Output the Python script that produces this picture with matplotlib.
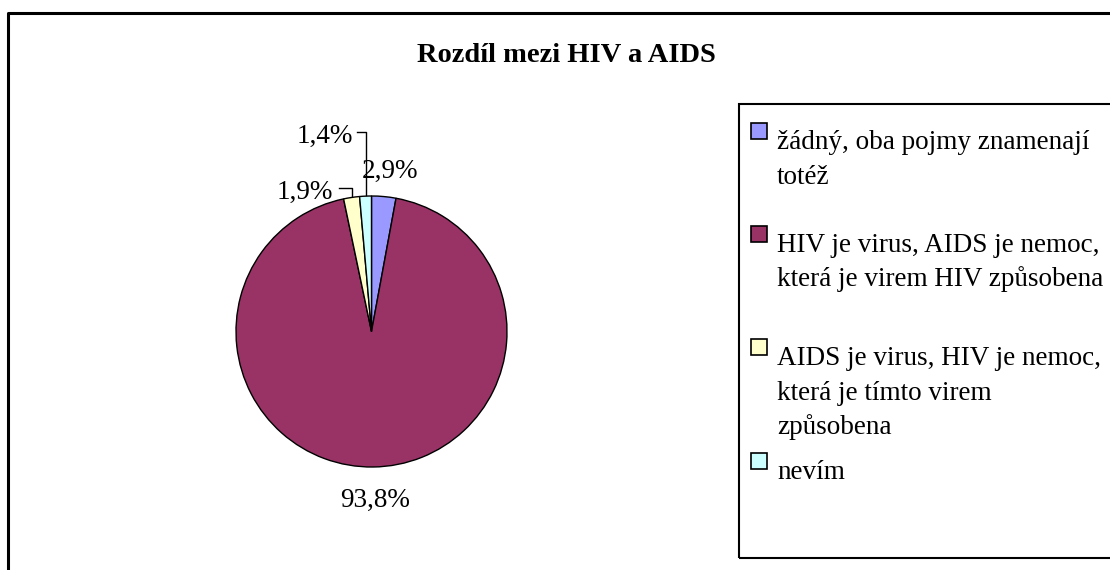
import matplotlib
matplotlib.use("Agg")
import matplotlib.pyplot as plt
from matplotlib.patches import Rectangle
import numpy as np

title = "Rozdíl mezi HIV a AIDS"
categories = [
    "žádný, oba pojmy znamenají\ntotéž",
    "HIV je virus, AIDS je nemoc,\nkterá je virem HIV způsobena",
    "AIDS je virus, HIV je nemoc,\nkterá je tímto virem\nzpůsobena",
    "nevím",
]
values = [2.9, 93.8, 1.9, 1.4]
colors = ["#9999FF", "#993366", "#FFFFCC", "#CCFFFF"]

W, H = 1110, 570
fig = plt.figure(figsize=(W / 100, H / 100), dpi=100)
ax = fig.add_axes([0, 0, 1, 1])
ax.set_xlim(0, W)
ax.set_ylim(0, H)
ax.axis("off")

FONT = "Liberation Serif"
FS = 19.5

def py(y):
    return H - y

# outer chart frame
ax.plot([8, 8, W + 5], [py(H + 5), py(13), py(13)], color="black", lw=2.2,
        solid_capstyle="butt", clip_on=False)

# title
ax.text(566, py(62), title, fontfamily=FONT, fontweight="bold", fontsize=20.5,
        ha="center", va="baseline")

# pie
cx, cy, r = 371.5, py(331.5), 135.5
wedges, _ = ax.pie(values, colors=colors, startangle=90, counterclock=False,
                   center=(cx, cy), radius=r, frame=True,
                   wedgeprops=dict(edgecolor="black", linewidth=1.0))
ax.set_xlim(0, W)
ax.set_ylim(0, H)
ax.set_aspect("equal")
ax.axis("off")

def lab(v):
    return f"{v:.1f}".replace(".", ",") + "%"

def rim(w, frac=1.0):
    a = np.deg2rad((w.theta1 + w.theta2) / 2)
    return cx + r * frac * np.cos(a), cy + r * frac * np.sin(a)

# label placements (layout): (x, baseline y, ha, leader)
placements = [
    (390, 178, "center", None),
    (375, 507, "center", None),
    (333, 199, "right", (339, 188)),
    (353, 143, "right", (357, 132)),
]
for w, v, (lx, ly, ha, lead) in zip(wedges, values, placements):
    ax.text(lx, py(ly), lab(v), fontfamily=FONT, fontsize=FS, ha=ha,
            va="baseline")
    if lead is not None:
        ex, ey = rim(w)
        sx, sy = lead
        ax.plot([sx, ex, ex], [py(sy), py(sy), ey + 1], color="black", lw=1.0)

# legend box
ax.add_patch(Rectangle((739, py(558)), 400, 558 - 104, fill=False,
                       edgecolor="black", lw=1.5, clip_on=False))
entry_baselines = [149, 252, 365, 479]
line_gap = 34.5
for cat, col, yb in zip(categories, colors, entry_baselines):
    ax.add_patch(Rectangle((751, py(yb - 10)), 16, 16, facecolor=col,
                           edgecolor="black", lw=1.2))
    for i, line in enumerate(cat.split("\n")):
        ax.text(777, py(yb + i * line_gap), line, fontfamily=FONT,
                fontsize=FS, ha="left", va="baseline")

fig.savefig("out.png", dpi=100)
